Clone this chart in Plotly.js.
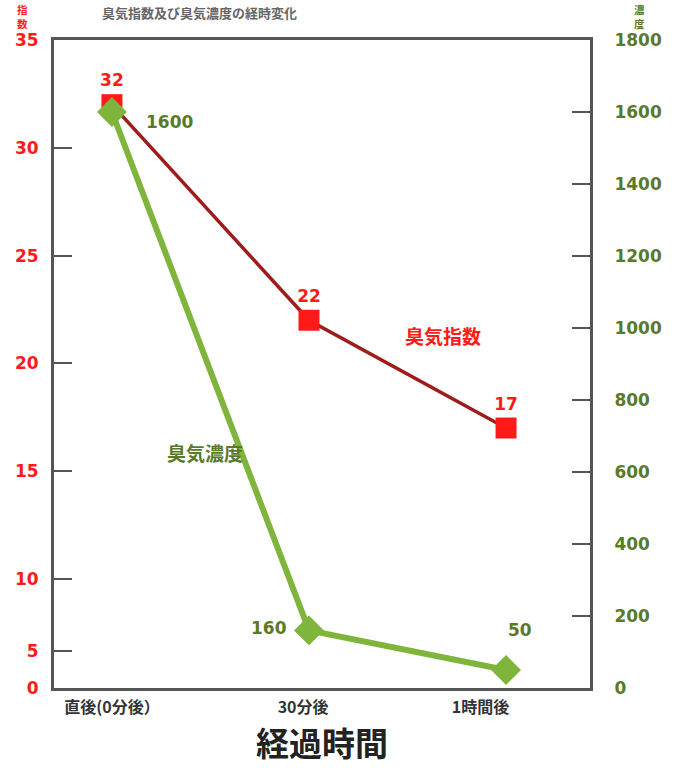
<!DOCTYPE html>
<html>
<head>
<meta charset="utf-8">
<script src="https://cdn.plot.ly/plotly-3.0.1.min.js"></script>
<style>html,body{margin:0;padding:0;background:#fff;}#chart{width:675px;height:768px;}</style>
</head>
<body>
<div id="chart"></div>
<script>
// ---- data ----
const categories = ['直後(0分後）', '30分後', '1時間後'];
const odorIndex = [32, 22, 17];            // 臭気指数 (left axis)
const odorConcentration = [1600, 160, 50]; // 臭気濃度 (right axis)
const leftTickText = ['0', '5', '10', '15', '20', '25', '30', '35'];
const rightTickVals = [0, 200, 400, 600, 800, 1000, 1200, 1400, 1600, 1800];

const catIdx = categories.map((c, i) => i);
const RED = '#ff1a1a';
const DARKRED = '#9e1c1c';
const GREEN = '#7fb53d';
const OLIVE = '#5a7a2a';
const CJK = '"Noto Sans CJK JP", "DejaVu Sans", sans-serif';
const NUM = '"DejaVu Sans", "Liberation Sans", sans-serif';

// label offsets (style) for the concentration value labels
const concLabelShift = [[58, -10], [-40, 2], [14, 40]];

const traces = [
  {
    x: catIdx, y: odorConcentration, yaxis: 'y2', xaxis: 'x',
    mode: 'lines+markers', name: '臭気濃度',
    line: {color: GREEN, width: 6},
    marker: {symbol: 'diamond', size: 23, color: GREEN},
    cliponaxis: false, hoverinfo: 'skip'
  },
  {
    x: catIdx, y: odorIndex, yaxis: 'y', xaxis: 'x',
    mode: 'lines+markers+text', name: '臭気指数',
    line: {color: DARKRED, width: 3.5},
    marker: {symbol: 'square', size: 21, color: RED},
    text: odorIndex.map(String),
    textposition: 'top center',
    textfont: {family: NUM, size: 17, color: RED, weight: 'bold'},
    cliponaxis: false, hoverinfo: 'skip'
  }
];

const concAnnotations = odorConcentration.map((v, i) => ({
  xref: 'x', yref: 'y2', x: catIdx[i], y: v, text: String(v), showarrow: false,
  xshift: concLabelShift[i][0], yshift: concLabelShift[i][1],
  font: {family: NUM, size: 17, color: OLIVE, weight: 'bold'}
}));

const xr = [-0.294, 2.426];
const layout = {
  width: 675, height: 768,
  margin: {l: 54, r: 85, t: 40, b: 80},
  paper_bgcolor: '#fff', plot_bgcolor: '#fff',
  showlegend: false,
  xaxis: {
    range: xr, tickvals: [0, 0.97, 1.87], ticktext: categories,
    ticks: '', showgrid: false, zeroline: false,
    showline: true, linewidth: 3, linecolor: '#555', mirror: true,
    tickfont: {family: CJK, size: 16, color: '#333', weight: 'bold'},
    ticklabelstandoff: 3,
    title: {text: '経過時間', font: {family: CJK, size: 33, color: '#222', weight: 'bold'}, standoff: 8}
  },
  xaxis2: {
    overlaying: 'x', anchor: 'y', side: 'bottom', range: xr,
    tickvals: [0.645, 1.487], ticks: 'inside', ticklen: 33, tickwidth: 2, tickcolor: '#444',
    showticklabels: false, showgrid: false, zeroline: false, showline: false
  },
  yaxis: {
    range: [4.94, 35], tickvals: [4.94, 6.66, 10, 15, 20, 25, 30, 35], ticktext: leftTickText,
    ticks: 'inside', ticklen: 18, tickwidth: 2, tickcolor: '#555',
    showgrid: false, zeroline: false,
    showline: true, linewidth: 3, linecolor: '#555',
    tickfont: {family: NUM, size: 17, color: RED, weight: 'bold'},
    ticklabelstandoff: 9
  },
  yaxis2: {
    overlaying: 'y', side: 'right', anchor: 'x',
    range: [0, 1800], tickvals: rightTickVals,
    ticks: 'inside', ticklen: 18, tickwidth: 2, tickcolor: '#555',
    showgrid: false, zeroline: false,
    showline: true, linewidth: 3, linecolor: '#555',
    tickfont: {family: NUM, size: 17, color: OLIVE, weight: 'bold'},
    ticklabelstandoff: 18
  },
  annotations: [
    {xref: 'paper', yref: 'paper', x: -0.058, y: 1.0617, xanchor: 'center', yanchor: 'top',
     text: '指<br>数', showarrow: false, font: {family: CJK, size: 10.5, color: RED, weight: 'bold'}},
    {xref: 'paper', yref: 'paper', x: 1.093, y: 1.0617, xanchor: 'center', yanchor: 'top',
     text: '濃<br>度', showarrow: false, font: {family: CJK, size: 10.5, color: OLIVE, weight: 'bold'}},
    {xref: 'paper', yref: 'paper', x: 0.272, y: 1.0602, xanchor: 'center', yanchor: 'top',
     text: '臭気指数及び臭気濃度の経時変化', showarrow: false, font: {family: CJK, size: 13, color: '#666', weight: 'bold'}},
    {xref: 'x', yref: 'y', x: 1.68, y: 21.3, text: '臭気指数', showarrow: false,
     font: {family: CJK, size: 19, color: RED, weight: 'bold'}},
    {xref: 'x', yref: 'y2', x: 0.47, y: 655, text: '臭気濃度', showarrow: false,
     font: {family: CJK, size: 19, color: OLIVE, weight: 'bold'}}
  ].concat(concAnnotations)
};

Plotly.newPlot('chart', traces, layout, {staticPlot: true, displayModeBar: false});
</script>
</body>
</html>
